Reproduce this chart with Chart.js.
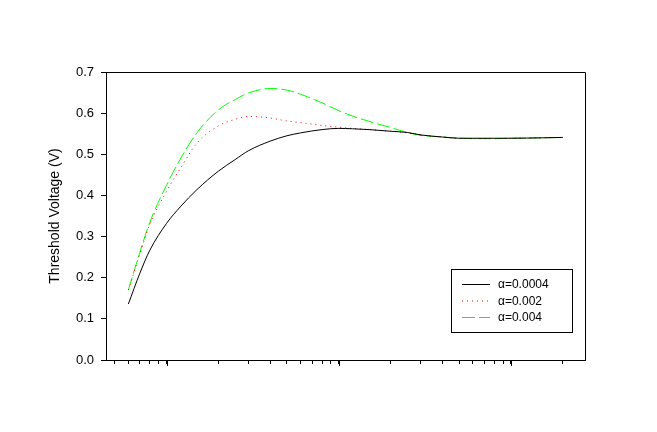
<!DOCTYPE html>
<html>
<head>
<meta charset="utf-8">
<script src="https://cdn.jsdelivr.net/npm/chart.js@4/dist/chart.umd.min.js"></script>
<style>
  body { margin: 0; background: #fff; }
  #wrap { width: 657px; height: 432px; }
</style>
</head>
<body>
<div id="wrap"><canvas id="myCanvas" width="657" height="432"></canvas></div>
<script>
'use strict';

// x positions (log axis, decades at 1, 10, 100)
let xValues = [0.6, 0.7, 0.8, 1, 1.2, 1.5, 2, 2.5, 3, 4, 5, 6, 8, 10, 12, 15, 20, 25, 30, 40, 50, 60, 80, 100, 150, 200];

let alpha0004 = [0.136, 0.211, 0.267, 0.332, 0.372, 0.414, 0.459, 0.487, 0.509, 0.532, 0.545, 0.552, 0.560, 0.563, 0.562, 0.560, 0.556, 0.553, 0.547, 0.542, 0.539, 0.539, 0.539, 0.539, 0.540, 0.541];
let alpha002 = [0.170, 0.258, 0.330, 0.410, 0.465, 0.527, 0.569, 0.585, 0.592, 0.588, 0.581, 0.577, 0.570, 0.566, 0.563, 0.560, 0.556, 0.552, 0.547, 0.542, 0.539, 0.538, 0.538, 0.539, 0.540, 0.541];
let alpha004 = [0.170, 0.262, 0.335, 0.425, 0.488, 0.552, 0.608, 0.633, 0.649, 0.660, 0.656, 0.646, 0.625, 0.606, 0.593, 0.580, 0.565, 0.553, 0.546, 0.542, 0.539, 0.538, 0.538, 0.539, 0.540, 0.541];

let seriesNames = ['\u03b1=0.0004', '\u03b1=0.002', '\u03b1=0.004'];
let yTicks = [0, 0.1, 0.2, 0.3, 0.4, 0.5, 0.6, 0.7];

function toPoints(ys) {
  let pts = [];
  for (let i = 0; i < xValues.length; i++) {
    pts.push({ x: xValues[i], y: ys[i] });
  }
  return pts;
}

const styles = [
  { color: '#000000', dash: [] },
  { color: '#ff0000', dash: [1, 4] },
  { color: '#00ff00', dash: [13, 4] }
];

// frame on top / right + longer major ticks + legend box
const extras = {
  id: 'extras',
  afterDraw(chart) {
    const ctx = chart.ctx;
    const a = chart.chartArea;
    const xs = chart.scales.x;
    ctx.save();
    ctx.strokeStyle = '#000';
    ctx.lineWidth = 1;
    ctx.beginPath();
    ctx.moveTo(Math.round(a.left) + 0.5, Math.round(a.top) + 0.5);
    ctx.lineTo(Math.round(a.right) + 0.5, Math.round(a.top) + 0.5);
    ctx.lineTo(Math.round(a.right) + 0.5, Math.round(a.bottom) + 0.5);
    ctx.stroke();

    for (let v of [1, 10, 100]) {
      let px = Math.round(xs.getPixelForValue(v)) + 0.5;
      ctx.beginPath();
      ctx.moveTo(px, a.bottom);
      ctx.lineTo(px, a.bottom + 6);
      ctx.stroke();
    }

    // legend
    ctx.strokeRect(451.5, 269.5, 121, 63);
    ctx.font = '12px "Liberation Sans", Arial, sans-serif';
    ctx.textBaseline = 'middle';
    ctx.fillStyle = '#000';
    let rows = [284, 300.5, 317];
    for (let i = 0; i < seriesNames.length; i++) {
      ctx.strokeStyle = styles[i].color;
      ctx.setLineDash(styles[i].dash);
      ctx.beginPath();
      ctx.moveTo(462, rows[i] + 0.5);
      ctx.lineTo(490, rows[i] + 0.5);
      ctx.stroke();
      ctx.setLineDash([]);
      ctx.fillText(seriesNames[i], 498, rows[i] + 1);
    }
    ctx.restore();
  }
};

const data = {
  datasets: [alpha0004, alpha002, alpha004].map((ys, i) => ({
    label: seriesNames[i],
    data: toPoints(ys),
    borderColor: styles[i].color,
    borderDash: styles[i].dash,
    borderWidth: 1,
    pointRadius: 0,
    cubicInterpolationMode: 'monotone',
    fill: false
  }))
};

const config = {
  type: 'line',
  data: data,
  options: {
    responsive: false,
    animation: false,
    layout: { padding: { left: 0, right: 72, top: 72, bottom: 62 } },
    plugins: { legend: { display: false }, tooltip: { enabled: false } },
    scales: {
      x: {
        type: 'logarithmic',
        min: 0.445,
        max: 269,
        afterBuildTicks(scale) {
          let t = [];
          for (let e = -1; e <= 2; e++) {
            for (let m = 1; m <= 9; m++) {
              let v = m * Math.pow(10, e);
              if (v >= scale.min && v <= scale.max) t.push({ value: v, major: m === 1 });
            }
          }
          scale.ticks = t;
        },
        afterFit(scale) { scale.height = 10; },
        ticks: { display: false },
        grid: { drawOnChartArea: false, tickLength: 4, color: '#000' },
        border: { display: true, color: '#000', width: 1 }
      },
      y: {
        min: 0,
        max: 0.7,
        afterBuildTicks(scale) {
          scale.ticks = yTicks.map(v => ({ value: v }));
        },
        afterFit(scale) { scale.width = 106; },
        ticks: {
          color: '#000',
          padding: 7,
          font: { family: '"Liberation Sans", Arial, sans-serif', size: 13 },
          callback: v => v.toFixed(1)
        },
        grid: { drawOnChartArea: false, tickLength: 5, color: '#000' },
        border: { display: true, color: '#000', width: 1 },
        title: {
          display: true,
          text: 'Threshold Voltage (V)',
          color: '#000',
          font: { family: '"Liberation Sans", Arial, sans-serif', size: 14 },
          padding: { top: 47, bottom: 0 }
        }
      }
    }
  },
  plugins: [extras]
};

const chart = document.getElementById('myCanvas');
const myChart = new Chart(chart, config);
</script>
</body>
</html>
